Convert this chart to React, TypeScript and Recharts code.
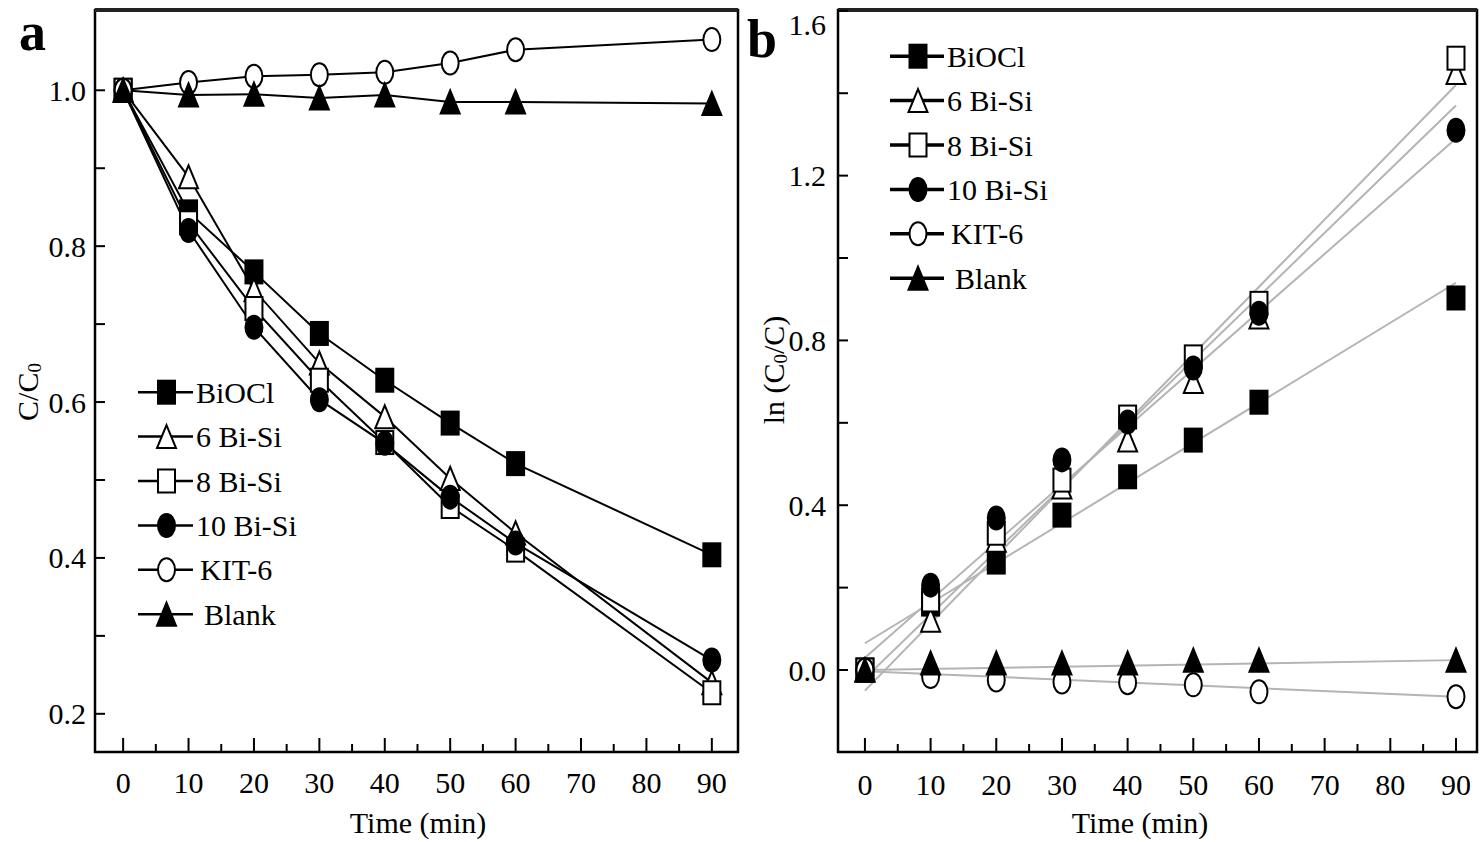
import React from 'react';
import { ComposedChart, Line, XAxis, YAxis, ReferenceArea, ReferenceLine, Legend } from 'recharts';

const TIME = [0, 10, 20, 30, 40, 50, 60, 90];
const SERIES_NAMES = ['BiOCl', '6 Bi-Si', '8 Bi-Si', '10 Bi-Si', 'KIT-6', 'Blank'];
const SERIES_KEYS = ['biocl', 'bisi6', 'bisi8', 'bisi10', 'kit6', 'blank'];
const MARKERS = ['squareFilled', 'triangleOpen', 'squareOpen', 'circleFilled', 'circleOpen', 'triangleFilled'];

// panel a: C/C0
const A_BIOCL = [1.0, 0.844, 0.767, 0.688, 0.628, 0.573, 0.521, 0.404];
const A_BISI6 = [1.0, 0.889, 0.744, 0.65, 0.581, 0.502, 0.432, 0.24];
const A_BISI8 = [1.0, 0.83, 0.72, 0.628, 0.548, 0.466, 0.41, 0.227];
const A_BISI10 = [1.0, 0.82, 0.696, 0.603, 0.547, 0.478, 0.419, 0.269];
const A_KIT6 = [1.0, 1.01, 1.018, 1.02, 1.023, 1.035, 1.052, 1.065];
const A_BLANK = [1.0, 0.994, 0.995, 0.99, 0.994, 0.985, 0.985, 0.983];

// panel b: ln(C0/C)
const B_BIOCL = [0, 0.16, 0.262, 0.376, 0.469, 0.558, 0.65, 0.903];
const B_BISI6 = [0, 0.121, 0.315, 0.444, 0.558, 0.7, 0.857, 1.45];
const B_BISI8 = [0, 0.17, 0.332, 0.461, 0.614, 0.76, 0.89, 1.485];
const B_BISI10 = [0, 0.206, 0.369, 0.51, 0.602, 0.733, 0.866, 1.31];
const B_KIT6 = [0, -0.016, -0.024, -0.029, -0.031, -0.036, -0.053, -0.065];
const B_BLANK = [0, 0.017, 0.017, 0.017, 0.017, 0.024, 0.024, 0.024];

// linear fit lines in panel b, value at t=0 and t=90
const FIT_T = [0, 90];
const FIT_BIOCL = [0.065, 0.94];
const FIT_BISI6 = [-0.02, 1.37];
const FIT_BISI8 = [-0.05, 1.42];
const FIT_BISI10 = [0.03, 1.29];
const FIT_KIT6 = [-0.003, -0.065];
const FIT_BLANK = [0.0, 0.024];

const X_TICKS = [0, 10, 20, 30, 40, 50, 60, 70, 80, 90];
const X_MINOR = [5, 15, 25, 35, 45, 55, 65, 75, 85];
const A_Y_TICKS = [0.2, 0.4, 0.6, 0.8, 1.0];
const A_Y_MINOR = [0.3, 0.5, 0.7, 0.9];
const B_Y_TICKS = [0, 0.4, 0.8, 1.2, 1.6];
const B_Y_MINOR = [0.2, 0.6, 1.0, 1.4];

const A_X_DOMAIN = [-4.3, 94];
const A_Y_DOMAIN = [0.151, 1.103];
const B_X_DOMAIN = [-4.1, 93.2];
const B_Y_DOMAIN = [-0.199, 1.602];

const FONT = '"Liberation Serif", "Times New Roman", serif';
const FS = 30;

const A_SERIES = [A_BIOCL, A_BISI6, A_BISI8, A_BISI10, A_KIT6, A_BLANK];
const B_SERIES = [B_BIOCL, B_BISI6, B_BISI8, B_BISI10, B_KIT6, B_BLANK];
const B_FITS = [FIT_BIOCL, FIT_BISI6, FIT_BISI8, FIT_BISI10, FIT_KIT6, FIT_BLANK];

const tableA = TIME.map((t, i) => {
  const row: any = { t };
  SERIES_KEYS.forEach((k, s) => (row[k] = A_SERIES[s][i]));
  return row;
});
const tableB = TIME.map((t, i) => {
  const row: any = { t };
  SERIES_KEYS.forEach((k, s) => (row[k] = B_SERIES[s][i]));
  return row;
});
const fitData = B_FITS.map((f) => FIT_T.map((t, i) => ({ t, v: f[i] })));

const allX = [...X_TICKS, ...X_MINOR].sort((a, b) => a - b);
const allYA = [...A_Y_TICKS, ...A_Y_MINOR].sort((a, b) => a - b);
const allYB = [...B_Y_TICKS, ...B_Y_MINOR].sort((a, b) => a - b);

function Marker({ kind, cx, cy, w = 17, h = 23 }: any) {
  if (cx == null || cy == null) return null;
  const filled = kind.endsWith('Filled');
  const p = { fill: filled ? '#000' : '#fff', stroke: '#000', strokeWidth: 2 };
  if (kind.startsWith('square')) return <rect x={cx - w / 2} y={cy - h / 2} width={w} height={h} {...p} />;
  if (kind.startsWith('circle')) return <ellipse cx={cx} cy={cy} rx={w / 2} ry={h / 2} {...p} />;
  const pts = `${cx},${cy - h / 2} ${cx + w / 2 + 1},${cy + h / 2} ${cx - w / 2 - 1},${cy + h / 2}`;
  return <polygon points={pts} {...p} strokeLinejoin="miter" />;
}

const TEXT_DX = [0, 0, 0, 0, 4, 8];

function LegendRows({ lineLen, strokeW }: any) {
  const rowH = 44.4;
  return (
    <svg width={260} height={rowH * 6} style={{ overflow: 'visible' }}>
      {SERIES_NAMES.map((name, i) => {
        const cy = rowH * i + rowH / 2;
        return (
          <g key={name}>
            <line x1={2} x2={2 + lineLen} y1={cy} y2={cy} stroke="#000" strokeWidth={strokeW} />
            <Marker kind={MARKERS[i]} cx={2 + lineLen / 2 + 1} cy={cy} />
            <text x={lineLen + 5 + TEXT_DX[i]} y={cy} dominantBaseline="central" fontSize={FS} fontFamily={FONT} fill="#000">
              {name}
            </text>
          </g>
        );
      })}
    </svg>
  );
}

function YTitle({ tx, ty, main, sub, tail }: any) {
  return (
    <text x={tx} y={ty} transform={`rotate(-90 ${tx} ${ty})`} textAnchor="middle" dominantBaseline="central" fontSize={FS} fontFamily={FONT} fill="#000">
      {main}
      <tspan fontSize={19} dy={7}>{sub}</tspan>
      <tspan dy={-7}>{tail}</tspan>
    </text>
  );
}

function XTitle({ viewBox, tx }: any) {
  return (
    <text x={tx} y={viewBox.y + 70} textAnchor="middle" dominantBaseline="central" fontSize={FS} fontFamily={FONT} fill="#000">
      Time (min)
    </text>
  );
}

function XTick({ x, y, payload, dy }: any) {
  const v = payload.value;
  const major = X_TICKS.includes(v);
  return (
    <g>
      <line x1={x} x2={x} y1={y} y2={y - (major ? 14 : 8)} stroke="#000" strokeWidth={2} />
      {major && (
        <text x={x} y={y + dy} textAnchor="middle" dominantBaseline="central" fontSize={FS} fontFamily={FONT} fill="#000">
          {v}
        </text>
      )}
    </g>
  );
}

function YTick({ x, y, payload, majors, dx }: any) {
  const v = payload.value;
  const major = majors.some((m: number) => Math.abs(m - v) < 1e-6);
  return (
    <g>
      <line x1={x} x2={x + 10} y1={y} y2={y} stroke="#000" strokeWidth={2} />
      {major && (
        <text x={x - dx} y={Math.max(y, 24)} textAnchor="end" dominantBaseline="central" fontSize={FS} fontFamily={FONT} fill="#000">
          {v.toFixed(1)}
        </text>
      )}
    </g>
  );
}

function PanelA() {
  return (
    <ComposedChart width={745} height={842} data={tableA} margin={{ top: 10, right: 7, bottom: 30, left: 35 }}>
      <XAxis dataKey="t" type="number" domain={A_X_DOMAIN} ticks={allX} interval={0} allowDataOverflow
        tickSize={0} tickMargin={0} axisLine={false} tickLine={false} height={60}
        tick={(p: any) => <XTick {...p} dy={30} />}
        label={<XTitle tx={418} />} />
      <YAxis type="number" domain={A_Y_DOMAIN} ticks={allYA} interval={0} allowDataOverflow width={60}
        tickSize={0} tickMargin={0} axisLine={false} tickLine={false}
        tick={(p: any) => <YTick {...p} majors={A_Y_TICKS} dx={9} />}
        label={<YTitle tx={27} ty={392} main="C/C" sub="0" tail="" />} />
      <ReferenceArea x1={A_X_DOMAIN[0]} x2={A_X_DOMAIN[1]} y1={A_Y_DOMAIN[0]} y2={A_Y_DOMAIN[1]} fill="none" stroke="#000" strokeWidth={2.5} ifOverflow="visible" />
      <ReferenceLine y={A_Y_DOMAIN[1]} stroke="#222" strokeWidth={4} ifOverflow="visible" />
      {SERIES_KEYS.map((k, s) => (
        <Line key={k} dataKey={k} stroke="#000" strokeWidth={2} isAnimationActive={false} activeDot={false}
          dot={(p: any) => <Marker key={`${k}-${p.index}`} kind={MARKERS[s]} cx={p.cx} cy={p.cy} />} />
      ))}
      <Legend layout="vertical" align="center" verticalAlign="middle" wrapperStyle={{ left: 136, top: 370 }}
        content={() => <LegendRows lineLen={55} strokeW={2.5} />} />
    </ComposedChart>
  );
}

function PanelB() {
  return (
    <ComposedChart width={737} height={842} data={tableB} margin={{ top: 10, right: 5, bottom: 30, left: 33 }}>
      <XAxis dataKey="t" type="number" domain={B_X_DOMAIN} ticks={allX} interval={0} allowDataOverflow
        tickSize={0} tickMargin={0} axisLine={false} tickLine={false} height={60}
        tick={(p: any) => <XTick {...p} dy={32} />}
        label={<XTitle tx={395} />} />
      <YAxis type="number" domain={B_Y_DOMAIN} ticks={allYB} interval={0} allowDataOverflow width={60}
        tickSize={0} tickMargin={0} axisLine={false} tickLine={false}
        tick={(p: any) => <YTick {...p} majors={B_Y_TICKS} dx={12} />}
        label={<YTitle tx={28} ty={370} main="ln (C" sub="0" tail="/C)" />} />
      <ReferenceArea x1={B_X_DOMAIN[0]} x2={B_X_DOMAIN[1]} y1={B_Y_DOMAIN[0]} y2={B_Y_DOMAIN[1]} fill="none" stroke="#000" strokeWidth={2.5} ifOverflow="visible" />
      <ReferenceLine y={B_Y_DOMAIN[1]} stroke="#222" strokeWidth={4} ifOverflow="visible" />
      {fitData.map((d, s) => (
        <Line key={`fit-${s}`} data={d} dataKey="v" stroke="#b4b4b4" strokeWidth={2} dot={false} activeDot={false} isAnimationActive={false} />
      ))}
      {SERIES_KEYS.map((k, s) => (
        <Line key={k} dataKey={k} stroke="none" isAnimationActive={false} activeDot={false}
          dot={(p: any) => <Marker key={`${k}-${p.index}`} kind={MARKERS[s]} cx={p.cx} cy={p.cy} />} />
      ))}
      <Legend layout="vertical" align="center" verticalAlign="middle" wrapperStyle={{ left: 143, top: 34 }}
        content={() => <LegendRows lineLen={54} strokeW={3.5} />} />
    </ComposedChart>
  );
}

export default function App() {
  return (
    <div style={{ position: 'absolute', left: 0, top: 0, width: 1482, height: 842, background: '#fff', fontFamily: FONT }}>
      <div style={{ position: 'absolute', left: 0, top: 0 }}>
        <PanelA />
      </div>
      <div style={{ position: 'absolute', left: 745, top: 0 }}>
        <PanelB />
      </div>
      <svg width={1482} height={842} style={{ position: 'absolute', left: 0, top: 0, pointerEvents: 'none' }}>
        <text x={19} y={50} fontSize={54} fontWeight="bold" fontFamily={FONT} fill="#000">a</text>
        <text x={747} y={57} fontSize={54} fontWeight="bold" fontFamily={FONT} fill="#000">b</text>
      </svg>
    </div>
  );
}
